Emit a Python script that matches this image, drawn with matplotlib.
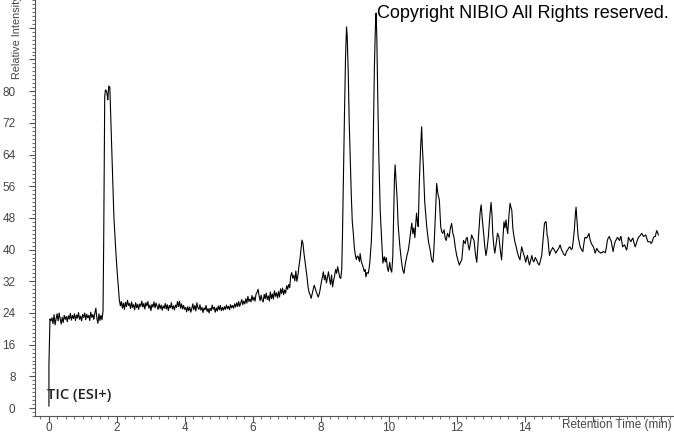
import numpy as np
import matplotlib
matplotlib.use("Agg")
import matplotlib.pyplot as plt
from matplotlib.ticker import MultipleLocator

# TIC (ESI+) chromatogram
rt = [0.00, 0.00, 0.03, 0.06, 0.09, 0.12, 0.15, 0.18, 0.21, 0.24, 0.27, 0.30, 0.33, 0.36, 0.39,
      0.42, 0.45, 0.48, 0.51, 0.54, 0.57, 0.60, 0.63, 0.66, 0.69, 0.72, 0.75, 0.78, 0.81, 0.84,
      0.87, 0.90, 0.93, 0.96, 0.99, 1.02, 1.05, 1.08, 1.11, 1.14, 1.17, 1.20, 1.23, 1.26, 1.29,
      1.32, 1.35, 1.38, 1.41, 1.44, 1.47, 1.50, 1.53, 1.56,
      1.59, 1.61, 1.64, 1.66, 1.69, 1.71, 1.73, 1.76, 1.79, 1.82, 1.87, 1.91, 1.97, 2.01, 2.05, 2.07,
      2.10, 2.13, 2.16, 2.19, 2.22, 2.25, 2.28, 2.31, 2.34, 2.37, 2.40, 2.43, 2.46, 2.49, 2.52,
      2.55, 2.58, 2.61, 2.64, 2.67, 2.70, 2.73, 2.76, 2.79, 2.82, 2.85, 2.88, 2.91, 2.94, 2.97,
      3.00, 3.03, 3.06, 3.09, 3.12, 3.15, 3.18, 3.21, 3.24, 3.27, 3.30, 3.33, 3.36, 3.39, 3.42,
      3.45, 3.48, 3.51, 3.54, 3.57, 3.60, 3.63, 3.66, 3.69, 3.72, 3.75, 3.78, 3.81, 3.84, 3.87,
      3.90, 3.93, 3.96, 3.99, 4.02, 4.05, 4.08, 4.11, 4.14, 4.17, 4.20, 4.23, 4.26, 4.29, 4.32,
      4.35, 4.38, 4.41, 4.44, 4.47, 4.50, 4.53, 4.56, 4.59, 4.62, 4.65, 4.68, 4.71, 4.74, 4.77,
      4.80, 4.83, 4.86, 4.89, 4.92, 4.95, 4.98, 5.01, 5.04, 5.07, 5.10, 5.13, 5.16, 5.19, 5.22,
      5.25, 5.28, 5.31, 5.34, 5.37, 5.40, 5.43, 5.46, 5.49, 5.52, 5.55, 5.58, 5.61, 5.64, 5.67,
      5.70, 5.73, 5.76, 5.79, 5.82, 5.85, 5.88, 5.91, 5.94, 5.97, 6.00, 6.03, 6.06, 6.09, 6.12,
      6.15, 6.18, 6.21, 6.24, 6.27, 6.30, 6.33, 6.36, 6.39, 6.42, 6.45, 6.48, 6.51, 6.54, 6.57,
      6.60, 6.63, 6.66, 6.69, 6.72, 6.75, 6.78, 6.81, 6.84, 6.87, 6.90, 6.93, 6.96, 6.99, 7.02,
      7.05, 7.08, 7.11, 7.14, 7.17, 7.20, 7.23, 7.26, 7.29, 7.32, 7.35, 7.38, 7.41, 7.44, 7.47,
      7.50, 7.53, 7.56, 7.59, 7.62, 7.65, 7.68, 7.71, 7.74, 7.77, 7.80, 7.83, 7.86, 7.89, 7.92,
      7.95, 7.98, 8.01, 8.04, 8.07, 8.10, 8.13, 8.16, 8.19, 8.22, 8.25, 8.28, 8.31, 8.34, 8.37,
      8.40, 8.43, 8.46, 8.49, 8.52, 8.55, 8.58, 8.61, 8.63, 8.66, 8.69, 8.72, 8.75, 8.77, 8.80,
      8.83, 8.86, 8.89, 8.92, 8.95, 8.98, 9.01, 9.04, 9.07, 9.10, 9.13, 9.15, 9.18, 9.21, 9.24,
      9.27, 9.30, 9.32, 9.35, 9.39, 9.42, 9.44, 9.48, 9.51, 9.54, 9.57, 9.60, 9.62, 9.64, 9.67,
      9.70, 9.74, 9.78, 9.82, 9.86, 9.89, 9.92, 9.95, 9.98, 10.02, 10.05, 10.08, 10.11, 10.14, 10.16,
      10.18, 10.21, 10.24, 10.27, 10.32, 10.36, 10.40, 10.44, 10.48, 10.52, 10.57, 10.61, 10.64, 10.67, 10.70,
      10.73, 10.76, 10.79, 10.81, 10.84, 10.86, 10.89, 10.93, 10.96, 10.98, 11.01, 11.05, 11.11, 11.16, 11.21,
      11.25, 11.29, 11.32, 11.35, 11.38, 11.40, 11.44, 11.48, 11.52, 11.55, 11.58, 11.62, 11.65, 11.68, 11.72,
      11.77, 11.80, 11.84, 11.88, 11.91, 11.95, 11.99, 12.03, 12.07, 12.10, 12.14, 12.19, 12.24, 12.27, 12.30,
      12.33, 12.36, 12.40, 12.43, 12.46, 12.50, 12.54, 12.58, 12.62, 12.65, 12.68, 12.71, 12.74, 12.78, 12.82,
      12.85, 12.88, 12.92, 12.96, 13.00, 13.03, 13.05, 13.08, 13.11, 13.15, 13.19, 13.23, 13.27, 13.31, 13.35,
      13.38, 13.41, 13.44, 13.47, 13.49, 13.53, 13.56, 13.59, 13.61, 13.64, 13.66, 13.70, 13.74, 13.77, 13.80,
      13.85, 13.90, 13.95, 13.99, 14.02, 14.05, 14.07, 14.10, 14.13, 14.17, 14.20, 14.23, 14.26, 14.30, 14.34,
      14.38, 14.42, 14.46, 14.49, 14.53, 14.57, 14.60, 14.62, 14.65, 14.67, 14.70, 14.72, 14.75, 14.78, 14.81,
      14.83, 14.87, 14.90, 14.93, 14.96, 15.00, 15.03, 15.07, 15.10, 15.14, 15.18, 15.22, 15.25, 15.29, 15.32,
      15.36, 15.39, 15.42, 15.45, 15.48, 15.50, 15.53, 15.56, 15.59, 15.62, 15.66, 15.70, 15.73, 15.76, 15.79,
      15.81, 15.85, 15.88, 15.90, 15.93, 15.97, 16.01, 16.04, 16.06, 16.09, 16.11, 16.14, 16.16, 16.20, 16.23,
      16.27, 16.30, 16.33, 16.36, 16.39, 16.42, 16.45, 16.48, 16.51, 16.53, 16.56, 16.59, 16.62, 16.65, 16.69,
      16.72, 16.75, 16.78, 16.80, 16.82, 16.85, 16.87, 16.90, 16.93, 16.96, 16.99, 17.02, 17.04, 17.08, 17.11,
      17.14, 17.17, 17.21, 17.24, 17.27, 17.30, 17.33, 17.36, 17.40, 17.43, 17.46, 17.48, 17.52, 17.55, 17.58,
      17.61, 17.64, 17.68, 17.70, 17.72, 17.75, 17.77, 17.80, 17.83, 17.85, 17.87, 17.90, 17.92]

intensity = [0.5, 11.0, 22.5, 22.0, 22.8, 21.3, 23.6, 21.0, 22.5, 23.8, 22.0, 24.0, 22.6, 21.2, 22.9,
             21.6, 23.4, 22.4, 23.1, 21.8, 23.3, 22.5, 23.9, 22.2, 23.4, 22.6, 23.8, 22.1, 23.5, 22.7,
             24.1, 22.4, 23.2, 22.0, 23.6, 22.9, 24.0, 22.3, 23.7, 22.8, 23.4, 22.1, 24.2, 22.9, 23.6,
             22.4, 24.0, 25.2, 22.6, 21.4, 23.8, 22.1, 23.4, 22.3,
             24.5, 42.0, 78.5, 80.3, 80.1, 79.2, 77.8, 81.3, 81.0, 72.7, 58.3, 48.2, 39.0, 34.0, 29.5, 27.3,
             25.8, 26.9, 25.2, 26.5, 24.9, 26.7, 25.6, 27.2, 25.9, 26.4, 25.1, 26.8, 25.4, 26.1, 24.8,
             26.6, 25.3, 26.2, 24.9, 26.3, 25.7, 27.0, 25.5, 26.4, 25.0, 26.6, 25.8, 26.9, 25.2, 26.0,
             24.6, 26.2, 25.5, 26.8, 25.3, 26.5, 25.7, 24.9, 26.3, 25.1, 26.0, 24.7, 25.8, 25.2, 26.4,
             25.0, 26.1, 24.6, 25.9, 25.3, 26.6, 25.0, 25.8, 24.8, 26.0, 25.4, 26.9, 25.6, 27.0, 25.2,
             26.3, 25.0, 25.9, 24.9, 25.4, 24.3, 25.6, 24.6, 25.5, 24.2, 25.1, 26.3, 24.8, 25.9, 24.5,
             26.6, 25.3, 24.9, 26.1, 24.7, 25.4, 24.1, 25.3, 24.8, 25.9, 24.4, 25.1, 24.0, 25.2, 24.6,
             26.0, 24.9, 25.5, 24.2, 25.3, 24.5, 25.8, 24.8, 25.9, 24.6, 25.4, 24.7, 25.6, 24.9, 26.0,
             25.1, 25.7, 24.8, 26.1, 25.3, 25.9, 25.2, 26.3, 25.5, 26.6, 25.6, 26.9, 25.7, 26.5, 27.4,
             26.1, 27.0, 26.3, 27.6, 26.5, 28.2, 26.9, 27.5, 26.8, 28.4, 27.2, 28.0, 27.0, 28.8, 29.2,
             30.0, 28.3, 27.1, 28.5, 27.3, 26.8, 28.7, 27.6, 29.0, 27.4, 28.3, 27.0, 29.3, 27.6, 28.8,
             27.5, 29.6, 28.2, 29.1, 27.8, 29.4, 28.0, 30.1, 28.9, 30.3, 28.6, 29.8, 29.0, 30.9, 30.0,
             31.2, 30.4, 33.4, 34.2, 32.8, 33.5, 32.1, 34.6, 32.0, 33.4, 35.7, 37.5, 40.0, 42.4, 41.5,
             39.0, 37.0, 35.2, 33.0, 30.5, 29.2, 28.6, 27.7, 28.8, 30.0, 31.0, 30.2, 29.4, 28.6, 28.0,
             28.9, 30.2, 31.8, 33.0, 34.4, 32.4, 33.5, 31.6, 33.0, 34.4, 32.6, 31.2, 33.6, 30.6, 32.2,
             33.4, 35.0, 34.0, 35.7, 34.3, 33.0, 32.7, 35.0, 43.0, 59.0, 74.0, 88.0, 96.2, 94.0, 85.0,
             72.0, 63.0, 54.0, 47.0, 44.1, 40.5, 38.6, 37.5, 38.4, 38.1, 37.0, 39.0, 37.2, 36.3, 35.6,
             34.5, 35.0, 33.1, 34.2, 34.0, 35.6, 37.3, 42.0, 49.1, 69.3, 86.0, 96.3, 99.7, 94.0, 78.0,
             64.0, 50.0, 43.0, 36.6, 38.2, 36.9, 38.0, 35.5, 34.5, 36.8, 35.0, 34.3, 38.0, 50.0, 58.0,
             61.4, 57.0, 52.5, 46.0, 40.7, 37.5, 35.0, 34.0, 36.5, 38.2, 40.0, 42.5, 44.8, 46.7, 44.0,
             45.5, 43.0, 47.0, 49.2, 46.5, 45.8, 56.7, 66.0, 71.0, 66.0, 61.0, 52.0, 45.7, 42.0, 39.9,
             37.5, 36.8, 40.0, 45.8, 52.0, 56.7, 54.0, 52.5, 45.8, 44.5, 44.1, 45.0, 43.0, 42.3, 44.1,
             43.1, 45.2, 46.6, 44.0, 43.1, 40.5, 38.5, 37.2, 36.1, 36.8, 37.4, 42.3, 41.5, 42.8, 43.1,
             41.0, 39.9, 42.0, 43.7, 43.0, 42.3, 39.0, 36.8, 42.0, 45.8, 49.5, 51.3, 48.0, 44.1, 40.5,
             38.5, 40.0, 43.1, 48.0, 51.9, 48.5, 44.1, 41.0, 39.1, 41.5, 44.1, 43.3, 40.0, 37.4, 43.0,
             47.0, 45.5, 47.5, 45.0, 44.1, 49.0, 51.7, 50.5, 50.0, 45.5, 44.1, 42.0, 40.7, 39.5, 38.5,
             37.4, 40.7, 39.1, 38.0, 36.8, 38.0, 38.5, 37.2, 36.1, 37.5, 38.5, 37.3, 36.9, 38.0, 37.4,
             36.5, 36.1, 37.5, 38.5, 42.5, 46.6, 47.0, 47.0, 43.5, 43.1, 40.0, 38.5, 39.5, 39.9, 40.5,
             40.3, 39.8, 39.1, 39.5, 39.9, 40.5, 41.2, 40.0, 39.5, 38.8, 38.5, 39.5, 39.9, 40.5, 40.7,
             40.0, 40.3, 42.5, 45.0, 49.0, 50.7, 47.0, 43.3, 42.0, 40.7, 40.0, 39.5, 41.5, 43.1, 43.0,
             42.9, 43.5, 44.1, 43.0, 42.0, 41.2, 40.7, 39.9, 39.1, 39.8, 40.3, 39.8, 39.5, 39.3, 39.1,
             39.3, 39.5, 39.4, 39.2, 40.5, 42.3, 43.0, 43.3, 42.5, 42.3, 40.8, 39.5, 41.0, 42.0, 42.6,
             43.1, 42.6, 42.3, 43.0, 43.3, 41.8, 40.7, 41.0, 41.2, 40.4, 39.9, 41.5, 43.1, 42.5, 42.0,
             42.5, 42.9, 41.5, 40.7, 41.5, 42.3, 43.0, 43.3, 43.7, 44.1, 43.7, 43.3, 43.5, 43.7, 42.8,
             42.0, 42.0, 42.0, 41.6, 41.6, 42.3, 42.9, 43.3, 43.3, 44.0, 44.8, 44.3, 43.7]

xticks = [0, 2, 4, 6, 8, 10, 12, 14, 16, 18]
xlabels = ["0", "2", "4", "6", "8", "10", "12", "14", "", ""]
yticks = [0, 8, 16, 24, 32, 40, 48, 56, 64, 72, 80, 88, 96]
ylabels = ["0", "8", "16", "24", "32", "40", "48", "56", "64", "72", "80", "", ""]

grey = "#555555"
plt.rcParams['font.family'] = ['Liberation Sans', 'DejaVu Sans']

fig = plt.figure(figsize=(6.74, 4.34), dpi=100)
ax = fig.add_axes([35 / 674, 18 / 434, 639 / 674, 416 / 434])

ax.plot(rt, intensity, color="black", lw=0.8)

ax.set_xlim(-0.41, 18.38)
ax.set_ylim(-2.0, 103.0)

ax.spines["top"].set_visible(False)
ax.spines["right"].set_visible(False)
for s in ["left", "bottom"]:
    ax.spines[s].set_color(grey)
    ax.spines[s].set_linewidth(0.8)

ax.set_xticks(xticks)
ax.set_xticklabels(xlabels)
ax.set_yticks(yticks)
ax.set_yticklabels(ylabels)
ax.xaxis.set_minor_locator(MultipleLocator(0.25))
ax.yaxis.set_minor_locator(MultipleLocator(1))
ax.tick_params(which="major", direction="out", length=4, width=0.8, color=grey,
               labelcolor="#444444", labelsize=8.5)
ax.tick_params(which="minor", direction="out", length=2, width=0.6, color=grey)
ax.tick_params(axis="y", which="major", pad=10)
ax.tick_params(axis="x", which="major", pad=0.5)

# axis titles sit like the instrument software puts them
fig.text(17 / 674, 1 - 79 / 434, "Relative Intensity", rotation=90, ha="center", va="bottom",
         fontsize=7.8, color="#444444")
fig.text(672 / 674, 1 - 425 / 434, "Retention Time (min)", ha="right", va="center",
         fontsize=8.5, color="#444444")
fig.text(47 / 674, 1 - 395 / 434, "TIC (ESI+)", ha="left", va="center",
         fontsize=10.5, weight="semibold", color="#222222", family=["Open Sans", "DejaVu Sans"])
fig.text(377 / 674, 1 - 14 / 434, "Copyright NIBIO All Rights reserved.", ha="left", va="center",
         fontsize=13, color="black")

fig.savefig("out.png", dpi=100)
